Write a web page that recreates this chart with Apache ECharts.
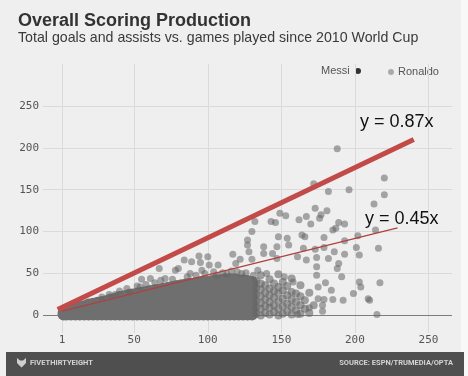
<!DOCTYPE html>
<html>
<head>
<meta charset="utf-8">
<script src="https://cdn.jsdelivr.net/npm/echarts@6/dist/echarts.min.js"></script>
<style>
html, body { margin: 0; padding: 0; background: #f7f7f7; }
#chart { width: 468px; height: 376px; }
</style>
</head>
<body>
<div id="chart"></div>
<script>
// games played (x) vs goals + assists (y)
const outlierPoints = [
    [188,199],[220,164],[220,144],[196,150],[182,148],[172,157],[213,133],[173,128],[181,125],
    [214,102],[216,80],[217,39],[210,18],[215,1],
    [149,122],[153,119],[177,120],[176,116],[167,118],[162,114],[170,109],[189,111],[193,109],[185,102],[187,104],
    [132,112],[143,112],[146,111],[164,96],[166,94],[148,94],[154,92],[179,93],[193,89],[202,95],[130,100],[127,90],
    [147,82],[155,84],[165,80],[173,79],[179,81],[186,76],[201,81],[203,72],[127,84],[128,76],[138,82],[147,68],
    [161,70],[167,66],[174,69],[182,68],[189,62],[193,73],[130,67],[138,74],[144,74],[117,73],[122,67],[119,62],
    [174,58],[188,56],[191,46],[174,48],[180,39],[184,30],[175,34],[203,40],[204,34],[199,26],
    [209,20],[175,20],[179,19],[185,19],[192,18],[178,12],[178,5],[169,9],[161,1],
    [94,71],[100,70],[89,64],[84,66],[95,63],[101,60],[107,60],[80,56],[78,54],[88,50],[96,54],[123,50],[134,54],
    [67,56],[55,43],[61,44],[68,42],[71,44],[54,34],[33,25],[28,22],[37,25],[47,28],
    [92,48],[98,50],[104,52],[110,51],[116,53],[113,49],[106,48],[86,46],[76,43],[64,39],
    [58,37],[52,35],[45,32],[40,29],[120,52],[126,51],[131,48],[140,50],[152,46],[158,40]
];
// the solid mass in the lower left: one column of players per games value
const denseColumns = [
    [2,[1,3]], [4,[1,4]], [7,[1,5,7]], [10,[1,4,8]], [13,[1,5,10]],
    [16,[1,5,9,11]], [19,[1,5,9,13]], [22,[1,5,9,14]], [25,[1,5,10,15]],
    [28,[1,5,10,16]], [31,[1,6,11,17]], [34,[1,5,10,15,19]], [37,[1,6,11,16,20]],
    [40,[1,5,10,15,22]], [43,[1,6,11,16,23]], [46,[1,5,10,16,24]],
    [49,[1,6,12,18,25]], [52,[1,5,11,17,26]], [55,[1,6,12,18,27]],
    [58,[1,6,12,19,28]], [61,[1,7,13,20,29]], [64,[1,6,12,18,24,30]],
    [67,[1,7,13,19,25,31]], [70,[1,6,12,18,24,32]], [73,[1,7,13,19,25,33]],
    [76,[1,6,12,19,26,34]], [79,[1,7,13,20,27,35]], [82,[1,6,12,18,24,30,36]],
    [85,[1,7,13,19,25,31,37]], [88,[1,6,12,18,24,30,38]], [91,[1,7,13,19,25,31,38]],
    [94,[1,6,12,18,24,30,39]], [97,[1,7,13,19,26,32,40]], [100,[1,6,12,18,25,31,40]],
    [103,[1,7,13,20,26,33,41]], [106,[1,6,12,19,26,32,42]], [109,[1,7,14,20,27,33,42]],
    [112,[1,6,13,19,26,33,43]], [115,[1,7,13,20,27,34,43]], [118,[1,6,13,20,27,34,43]],
    [121,[1,7,14,21,28,35,42]], [124,[1,6,12,19,26,33,42]], [127,[1,8,15,22,29,36,41]],
    [130,[1,7,14,21,28,35,40]]
];
// thinner tail of the mass, 133 to 172 games
const tailColumns = [
    [133,[2,9,17,25,33,41]], [136,[0,8,15,23,31,38,48]],
    [139,[3,11,19,27,36]], [142,[1,9,16,24,32,43]], [145,[4,12,21,29,38]],
    [148,[0,8,17,26,34,49]], [151,[2,11,20,30,40]], [154,[5,14,24,35]],
    [157,[1,10,19,28,44]], [160,[6,16,26]], [163,[2,12,23,36]], [166,[8,18]],
    [169,[3,27]], [172,[12]]
];
const steepFit = [[-2, 7], [240, 210]];     // "y = 0.87x"
const shallowFit = [[1, 5], [229, 104.5]];  // "y = 0.45x"
const xTicks = [1, 50, 100, 150, 200, 250];
const yTicks = [0, 50, 100, 150, 200, 250];

function flatten(cols) {
    let out = [];
    cols.forEach(([x, ys]) => ys.forEach(y => out.push([x, y])));
    return out;
}

const font = '"Liberation Sans", Arial, sans-serif';
const tickFont = '"DejaVu Sans Mono", monospace';

let chart = echarts.init(document.getElementById('chart'));
let option = {
    animation: false,
    backgroundColor: '#efefef',
    grid: { left: 43, right: 16, top: 64, bottom: 43, outerBoundsMode: 'none' },
    xAxis: {
        type: 'value',
        min: -12,
        max: 266,
        axisLine: { show: false },
        axisTick: { show: false, customValues: xTicks },
        axisLabel: { customValues: xTicks, color: '#555', fontFamily: tickFont, fontSize: 11, margin: 2 },
        splitLine: { show: true, lineStyle: { color: '#dadada', width: 1 } }
    },
    yAxis: {
        type: 'value',
        min: -21,
        max: 300,
        axisLine: { show: false },
        axisTick: { show: false, customValues: yTicks },
        axisLabel: { customValues: yTicks, color: '#555', fontFamily: tickFont, fontSize: 11, margin: 4 },
        splitLine: { show: true, lineStyle: { color: '#dadada', width: 1 } }
    },
    series: [
        {
            type: 'scatter',
            silent: true,
            symbol: 'circle',
            symbolSize: 12,
            itemStyle: { color: '#6f6f6f', opacity: 1, borderWidth: 0 },
            data: flatten(denseColumns),
            markLine: {
                silent: true,
                z: 1,
                symbol: 'none',
                label: { show: false },
                lineStyle: { color: '#7d7d7d', width: 1, type: 'solid' },
                data: [{ yAxis: 0 }]
            }
        },
        {
            type: 'scatter',
            silent: true,
            symbol: 'circle',
            symbolSize: 8,
            itemStyle: { color: '#656565', opacity: 0.6, borderWidth: 0 },
            data: flatten(tailColumns)
        },
        {
            type: 'scatter',
            silent: true,
            symbol: 'circle',
            symbolSize: 7,
            itemStyle: { color: '#656565', opacity: 0.55, borderWidth: 0 },
            data: outlierPoints
        },
        {
            type: 'line',
            silent: true,
            symbol: 'none',
            lineStyle: { color: '#c24a48', width: 5, cap: 'butt' },
            data: steepFit
        },
        {
            type: 'line',
            silent: true,
            symbol: 'none',
            lineStyle: { color: '#b0403f', width: 1.3 },
            data: shallowFit
        }
    ],
    graphic: [
        { type: 'rect', left: 461, top: 0, shape: { width: 7, height: 376 }, style: { fill: '#f8f8f8' }, z: -1 },
        { type: 'text', left: 18, top: 12, style: { text: 'Overall Scoring Production', font: 'bold 18px ' + font, fill: '#333' } },
        { type: 'text', left: 18, top: 31, style: { text: 'Total goals and assists vs. games played since 2010 World Cup', font: '14.2px ' + font, fill: '#3a3a3a' } },
        // legend
        { type: 'text', left: 321, top: 65, style: { text: 'Messi', font: '11px ' + font, fill: '#555' } },
        { type: 'circle', shape: { cx: 358, cy: 71, r: 3 }, style: { fill: '#333' } },
        { type: 'circle', shape: { cx: 391, cy: 72, r: 3 }, style: { fill: '#aaa' } },
        { type: 'text', left: 398, top: 66, style: { text: 'Ronaldo', font: '11px ' + font, fill: '#555' } },
        // fit labels
        { type: 'text', left: 360, top: 113, z: 10, style: { text: 'y = 0.87x', font: '18px ' + font, fill: '#111' } },
        { type: 'text', left: 365, top: 210, z: 10, style: { text: 'y = 0.45x', font: '18px ' + font, fill: '#111' } },
        // footer
        { type: 'rect', left: 6, top: 352, shape: { width: 458, height: 24 }, style: { fill: '#4f4f4f' } },
        { type: 'polygon', shape: { points: [[17,358],[20,360.5],[23,360.5],[26,358],[26,363],[21.5,367.5],[17,363]] }, style: { fill: '#cfcfcf' } },
        { type: 'text', left: 30, top: 359, style: { text: 'FIVETHIRTYEIGHT', font: 'bold 7.5px Roboto, sans-serif', fill: '#d4d4d4' } },
        { type: 'text', right: 15, top: 359, style: { text: 'SOURCE: ESPN/TRUMEDIA/OPTA', font: 'bold 7.5px Roboto, sans-serif', fill: '#d4d4d4' } }
    ]
};
chart.setOption(option);
</script>
</body>
</html>
